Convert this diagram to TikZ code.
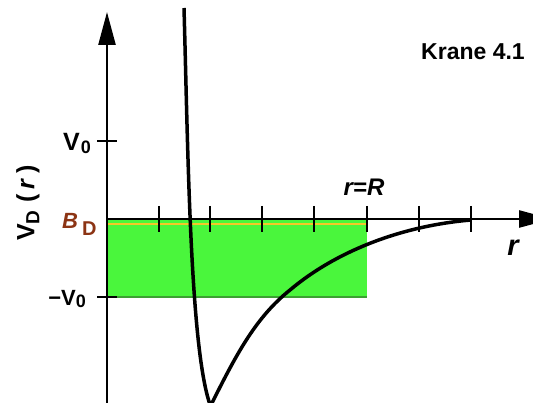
\documentclass[tikz,border=0pt]{standalone}
\usepackage{fontspec}
\setmainfont{Liberation Sans}
\usetikzlibrary{arrows.meta}
\definecolor{wellgreen}{RGB}{74,246,60}
\definecolor{welledge}{RGB}{60,160,50}
\definecolor{bdbrown}{RGB}{140,52,20}
\definecolor{bdyellow}{RGB}{245,200,40}
\begin{document}
\begin{tikzpicture}[x=1pt,y=-1pt,
  axis/.style={line width=2.5pt,-{Triangle[length=33pt,width=17pt]}},
  tick/.style={line width=2pt},
  curve/.style={line width=3.5pt,line join=round},
  lbl/.style={inner sep=0pt,font=\bfseries}]
\useasboundingbox (0,0) rectangle (533,403);
\clip (0,0) rectangle (533,403);
% named points
\coordinate (O) at (107,219);
\coordinate (ytop) at (107,12);
\coordinate (ybot) at (107,410);
\coordinate (xend) at (552,219);
\coordinate (wellc) at (367,297);
\coordinate (yl) at (107,224);
\coordinate (yr) at (367,224);
\coordinate (ctop) at (184,8);
\coordinate (cmin) at (210.5,406);
\coordinate (cmid) at (290,290);
\coordinate (cend) at (471,220);
% well
\fill[wellgreen] (O) rectangle (wellc);
\draw[welledge,line width=1.2pt] (107,297) -- (wellc);
\draw[bdyellow,line width=1.3pt] (yl) -- (yr);
% axes
\draw[axis] (ybot) -- (ytop);
\draw[axis] (O) -- (xend);
% ticks
\foreach \x in {159,210,262,314,367,419,471}
  \draw[tick] (\x,206) -- (\x,232);
\draw[tick] (97,141) -- (117,141);
\draw[tick] (97,297) -- (117,297);
% curve
\draw[curve] (ctop) .. controls (188,150) and (190,350) .. (cmin)
  .. controls (235.5,356) and (255,318) .. (cmid)
  .. controls (335,252) and (400,226) .. (cend);
% labels
\node[lbl,anchor=base east] (v0) at (91,151)
  {\fontsize{25}{25}\selectfont V\hspace{1pt}\raisebox{-3pt}{\fontsize{18}{18}\selectfont 0}};
\node[lbl,anchor=base east] (mv0) at (86,306)
  {\fontsize{22}{22}\selectfont −V\raisebox{-2pt}{\fontsize{18}{18}\selectfont 0}};
\node[lbl,anchor=base west,text=bdbrown] (bd) at (62,229)
  {\fontsize{22}{22}\selectfont\itshape B\hspace{4pt}\upshape\raisebox{-7pt}{\fontsize{20}{20}\selectfont D}};
\node[lbl,rotate=90] (vdr) at (28,203)
  {\fontsize{25}{25}\selectfont V\raisebox{-5pt}{\fontsize{19}{19}\selectfont D}\hspace{8pt}(\hspace{5pt}\textit{r}\hspace{5pt})};
\node[lbl,anchor=base] (rR) at (364,196)
  {\fontsize{24}{24}\selectfont\itshape r=R};
\node[lbl,anchor=base] (r) at (513,256)
  {\fontsize{29}{29}\selectfont\itshape r};
\node[lbl,anchor=base east] (krane) at (525,60)
  {\fontsize{23}{23}\selectfont Krane 4.1};
\end{tikzpicture}
\end{document}
